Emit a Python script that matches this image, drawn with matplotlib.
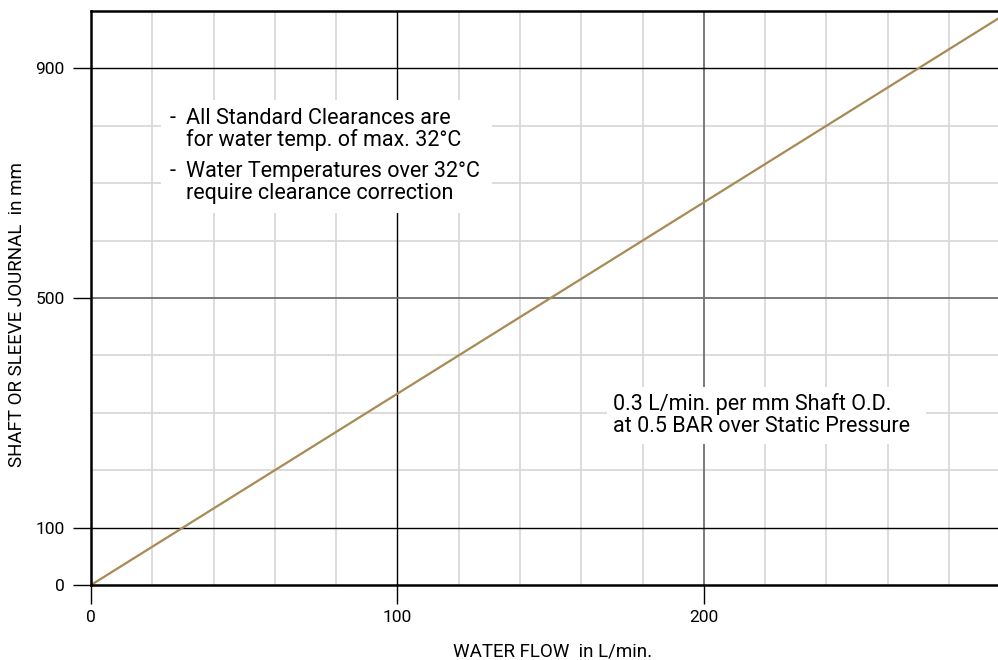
import matplotlib.pyplot as plt
from matplotlib.patches import Rectangle

# data: 0.3 L/min per mm shaft diameter
flow = [0, 300]
shaft = [0, 1000]

x_ticks = [0, 100, 200]
y_ticks = [0, 100, 500, 900]
x_minor = [20, 40, 60, 80, 120, 140, 160, 180, 220, 240, 260, 280]
y_minor = [200, 300, 400, 600, 700, 800]

note1 = ['All Standard Clearances are', 'for water temp. of max. 32°C',
         'Water Temperatures over 32°C', 'require clearance correction']
note2 = ['0.3 L/min. per mm Shaft O.D.', 'at 0.5 BAR over Static Pressure']

plt.rcParams['font.family'] = ['Roboto', 'DejaVu Sans']

fig = plt.figure(figsize=(9.98, 6.6), dpi=100)
ax = fig.add_axes([91 / 998, 75 / 660, 907 / 998, 574 / 660])
ax.set_xlim(0, 296)
ax.set_ylim(0, 1000)

# grid
for v in x_minor:
    ax.axvline(v, color='#d6d6d6', lw=1.2, zorder=0)
for v in y_minor:
    ax.axhline(v, color='#d6d6d6', lw=1.2, zorder=0)
ax.axvline(100, color='black', lw=1, zorder=1)
ax.axvline(200, color='#6e6e6e', lw=1.3, zorder=1)
ax.axhline(100, color='black', lw=1, zorder=1)
ax.axhline(900, color='black', lw=1, zorder=1)
ax.axhline(500, color='#6e6e6e', lw=1.3, zorder=1)

ax.plot(flow, shaft, color='#a88a55', lw=1.6, zorder=3)

# notes on white boxes
ax.add_patch(Rectangle((22.8, 648), 108, 197, facecolor='white', edgecolor='none', zorder=2))
ax.add_patch(Rectangle((168.4, 245.6), 104, 99.4, facecolor='white', edgecolor='none', zorder=2))
for i, y in enumerate([803, 765, 711, 672.5]):
    if i % 2 == 0:
        ax.text(25.8, y, '-', fontsize=15.5, va='baseline', ha='left', zorder=4)
    ax.text(31, y, note1[i], fontsize=15.5, va='baseline', ha='left', zorder=4)
for i, y in enumerate([305, 266.5]):
    ax.text(170.3, y, note2[i], fontsize=15.5, va='baseline', ha='left', zorder=4)

for s in ['right']:
    ax.spines[s].set_visible(False)
for s in ['left', 'bottom', 'top']:
    ax.spines[s].set_linewidth(1.8)
    ax.spines[s].set_zorder(5)

ax.set_xticks(x_ticks)
ax.set_yticks(y_ticks)
ax.tick_params(axis='y', length=13, width=1, pad=6, labelsize=12.5)
ax.tick_params(axis='x', length=14, width=1, pad=4, labelsize=12.5)
ax.yaxis.get_ticklines()[0].set_color('#6e6e6e')
ax.yaxis.get_ticklines()[4].set_color('#6e6e6e')
ax.xaxis.get_ticklines()[4].set_color('#6e6e6e')

fig.text(17 / 998, 1 - 315 / 660, 'SHAFT OR SLEEVE JOURNAL  in mm', rotation=90,
         ha='center', va='center', fontsize=13.5)
fig.text(553 / 998, 1 - 652 / 660, 'WATER FLOW  in L/min.', ha='center', va='center', fontsize=13.5)

fig.savefig('out.png', dpi=100)
